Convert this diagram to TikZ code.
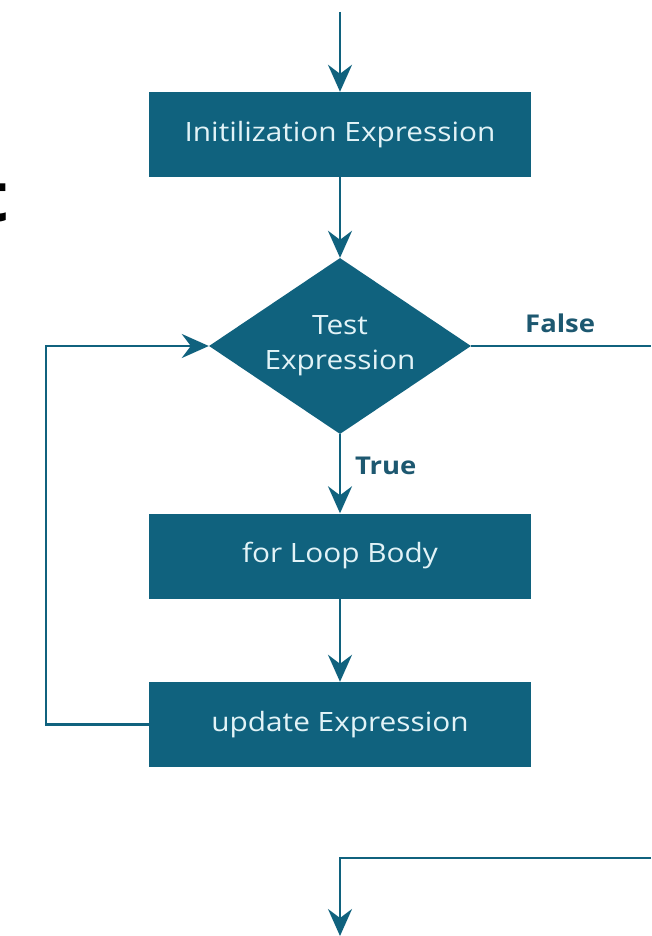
\documentclass[tikz,border=0pt]{standalone}
\usepackage{fontspec}
\setmainfont{Open Sans}[FakeStretch=1.12]
\newfontfamily\fragfont{Open Sans}
\usetikzlibrary{arrows.meta,shapes.geometric}
\definecolor{tealbox}{HTML}{10627E}
\definecolor{boxtext}{HTML}{E2F3F7}
\definecolor{lbltext}{HTML}{1D5870}
\begin{document}
\begin{tikzpicture}[x=1pt,y=-1pt,
  box/.style={fill=tealbox, minimum width=382pt, minimum height=85pt, inner sep=0pt,
    text=boxtext, font=\fontsize{26.6}{35}\selectfont},
  decide/.style={diamond, fill=tealbox, minimum width=262pt, minimum height=176pt, aspect=1.5,
    inner sep=0pt, text=boxtext, align=center, font=\fontsize{26.6}{35}\selectfont},
  lbl/.style={text=lbltext, font=\bfseries\fontsize{24.5}{28}\selectfont, inner sep=0pt},
  conn/.style={draw=tealbox, line width=2.4pt},
  arr/.style={conn, -{Stealth[length=27pt, width=24pt, inset=9pt]}}]
\fill[white] (0,0) rectangle (651,936);
\useasboundingbox (0,0) rectangle (651,936);
\begin{scope}
\clip (0,0) rectangle (651,936);
\node[anchor=base east, font=\fragfont\bfseries\fontsize{69}{80}\selectfont, text=black, inner sep=0pt] (tfrag) at (9,221) {t};
\end{scope}
\node[box] (init) at (340,134.5) {Initilization Expression};
\node[decide] (test) at (340,346) {Test\\Expression};
\node[box] (body) at (340,556) {for Loop Body};
\node[box] (update) at (340,724.5) {update Expression};
\node[lbl, anchor=west] (flbl) at (525,323) {False};
\node[lbl, anchor=west] (tlbl) at (355,466) {True};
\coordinate (start) at (340,12);
\coordinate (loopcorner) at (46,724.5);
\coordinate (falseend) at (651,346);
\coordinate (botright) at (651,858);
\coordinate (botmid) at (340,858);
\coordinate (finish) at (340,936);
\draw[arr] (start) -- (init.north);
\draw[arr] (init.south) -- (test.north);
\draw[arr] (test.south) -- (body.north);
\draw[arr] (body.south) -- (update.north);
\draw[arr] (update.west) -- (loopcorner) |- (test.west);
\draw[conn] (test.east) -- (falseend);
\draw[arr] (botright) -- (botmid) -- (finish);
\end{tikzpicture}
\end{document}
